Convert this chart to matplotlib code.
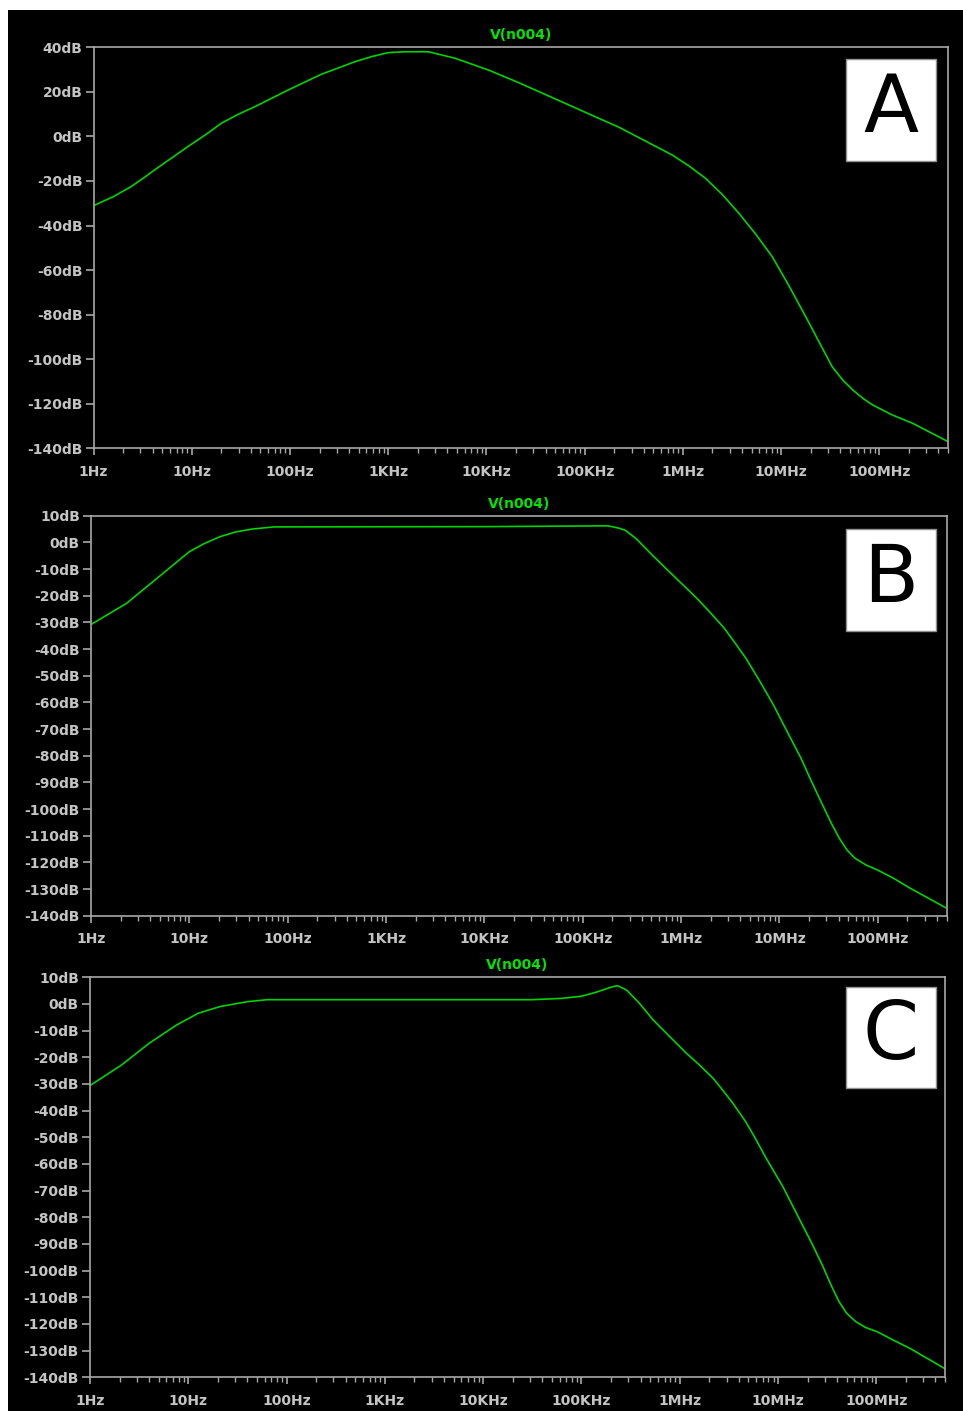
import numpy as np
import matplotlib
matplotlib.use('Agg')
import matplotlib.pyplot as plt
from matplotlib.patches import Rectangle
from matplotlib.ticker import FixedLocator, LogLocator, NullFormatter

# ---------------- data ----------------
freq_a = [1, 1.6, 2.4, 3.2, 4.17, 9.12, 14.1, 20, 30, 43.7, 95.5, 209, 457, 676, 1000, 1480,
          2570, 3470, 4790, 10500, 21400, 69200, 224000, 776000, 1.15e6, 1.70e6, 2.51e6,
          3.72e6, 5.5e6, 8.13e6, 1.2e7, 1.78e7, 3.31e7, 4.27e7, 5.37e7, 6.76e7, 8.51e7,
          1.35e8, 2.19e8, 5.0e8]
db_a = [-31.1, -27.0, -22.6, -18.8, -15.1, -4.6, 1.0, 5.9, 10.0, 13.3, 20.8, 27.9, 33.5, 35.8,
        37.6, 38.0, 38.0, 36.6, 35.1, 29.8, 24.1, 14.1, 4.1, -8.3, -13.2, -18.8, -26.0,
        -34.5, -43.8, -54.0, -67.0, -80.9, -103.4, -109.5, -113.8, -117.5, -120.5,
        -125.0, -128.8, -137.0]

freq_b = [1, 2.29, 4.9, 10, 14.1, 20.4, 29.5, 43.7, 72.4, 10000, 180000, 224000, 269000,
          347000, 501000, 759000, 1.05e6, 1.45e6, 2.0e6, 2.75e6, 3.55e6, 4.57e6, 6.3e6,
          8.71e6, 1.2e7, 1.66e7, 2.14e7, 2.75e7, 3.39e7, 4.07e7, 4.9e7, 5.89e7, 7.6e7,
          1.0e8, 1.45e8, 2.14e8, 4.9e8]
db_b = [-30.8, -22.9, -12.9, -3.5, -0.5, 2.1, 3.9, 5.0, 5.8, 5.9, 6.2, 5.5, 4.6,
        1.5, -4.5, -11.0, -16.0, -21.0, -26.5, -32.2, -37.8, -43.5, -52.0,
        -61.0, -71.0, -81.0, -90.0, -98.5, -105.5, -111.0, -115.5, -118.5, -121.0,
        -122.9, -126.0, -129.7, -137.0]

freq_c = [1, 2.09, 3.98, 7.59, 12.6, 20.9, 39.8, 63.1, 31600, 63100, 100000, 141000,
          200000, 234000, 288000, 389000, 537000, 794000, 1.17e6, 1.58e6, 2.19e6, 2.75e6,
          3.47e6, 4.68e6, 5.9e6, 7.59e6, 1.12e7, 1.70e7, 2.19e7, 2.82e7, 3.47e7, 4.17e7,
          5.0e7, 6.17e7, 7.76e7, 1.02e8, 1.48e8, 2.19e8, 4.9e8]
db_c = [-30.6, -22.9, -14.8, -7.9, -3.5, -1.0, 0.85, 1.6, 1.6, 2.1, 2.9, 4.4,
        6.3, 6.85, 5.2, 0.25, -6.0, -12.3, -18.5, -22.8, -27.9, -32.4,
        -37.2, -44.1, -50.5, -57.9, -68.5, -81.6, -89.5, -97.9, -105.5, -111.6,
        -116.0, -119.1, -121.3, -122.9, -126.0, -129.1, -136.6]

x_ticks = [1, 10, 100, 1e3, 1e4, 1e5, 1e6, 1e7, 1e8]
x_labels = ['1Hz', '10Hz', '100Hz', '1KHz', '10KHz', '100KHz', '1MHz', '10MHz', '100MHz']
y_ticks_a = [40, 20, 0, -20, -40, -60, -80, -100, -120, -140]
y_ticks_bc = [10, 0, -10, -20, -30, -40, -50, -60, -70, -80, -90, -100, -110, -120, -130, -140]
trace_name = 'V(n004)'
panel_letters = ['A', 'B', 'C']

# ---------------- layout ----------------
W, H = 963, 1411
fig = plt.figure(figsize=(W / 100, H / 100), dpi=100, facecolor='white')


def fx(x):
    return x / W


def fy(y):
    return 1 - y / H


fig.patches.append(Rectangle((fx(8), 0), 1 - fx(8), fy(10), transform=fig.transFigure,
                             facecolor='black', edgecolor='none', zorder=-10))

frames = [  # left, right, top, bottom in pixels
    (93.5, 948, 47.3, 448.3),
    (91, 946.5, 515.7, 915.7),
    (90, 945, 977.3, 1377.3),
]
boxes = [(846, 936, 59, 161), (846, 936, 529, 631), (846, 936, 987, 1088)]
series = [(freq_a, db_a, y_ticks_a), (freq_b, db_b, y_ticks_bc), (freq_c, db_c, y_ticks_bc)]

GRAY = '#a8a8a8'
LABEL = '#c4c4c4'
GREEN_LINE = '#00d400'
GREEN_TEXT = '#00e400'

for (l, r, t, b), (fr, db, yt), (bl, br, bt, bb), letter in zip(frames, series, boxes, panel_letters):
    ax = fig.add_axes([fx(l), fy(b), fx(r - l), (b - t) / H])
    ax.set_facecolor('black')
    ax.plot(fr, db, color=GREEN_LINE, lw=1.2, solid_joinstyle='round')
    ax.set_xscale('log')
    ax.set_xlim(1, 5e8)
    ax.set_ylim(yt[-1], yt[0])
    for s in ax.spines.values():
        s.set_color(GRAY)
        s.set_linewidth(1.2)
    ax.xaxis.set_major_locator(FixedLocator(x_ticks))
    ax.set_xticklabels(x_labels)
    ax.xaxis.set_minor_locator(LogLocator(base=10, subs=np.arange(2, 10), numticks=20))
    ax.xaxis.set_minor_formatter(NullFormatter())
    ax.set_yticks(yt)
    ax.set_yticklabels([f'{v}dB' for v in yt])
    ax.tick_params(axis='x', which='major', direction='out', length=5, width=1.2,
                   color=GRAY, labelcolor=LABEL, labelsize=10, pad=7)
    ax.tick_params(axis='x', which='minor', direction='out', length=3.5, width=1.0, color=GRAY)
    ax.tick_params(axis='y', which='major', direction='out', length=6, width=1.2,
                   color=GRAY, labelcolor=LABEL, labelsize=10, pad=2)
    for lab in ax.get_xticklabels() + ax.get_yticklabels():
        lab.set_fontweight('bold')
    ax.text(0.5, 1.0 + 5 / (b - t), trace_name, transform=ax.transAxes, ha='center',
            va='bottom', color=GREEN_TEXT, fontsize=10, fontweight='bold')

    fig.patches.append(Rectangle((fx(bl), fy(bb)), fx(br - bl), (bb - bt) / H,
                                 transform=fig.transFigure, facecolor='white',
                                 edgecolor='#909090', lw=1.0, zorder=5))
    fig.text(fx((bl + br) / 2), fy((bt + bb) / 2), letter, ha='center', va='center',
             fontsize=58, color='black', zorder=6)

fig.savefig('out.png', dpi=100, facecolor=fig.get_facecolor())
